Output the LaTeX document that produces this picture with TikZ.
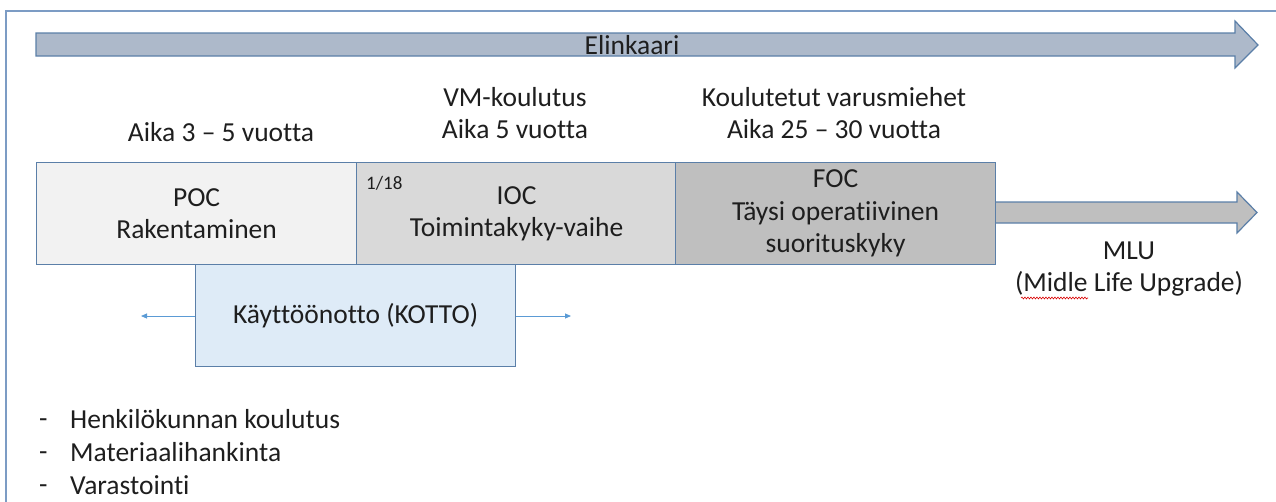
\documentclass[tikz,border=0pt]{standalone}
\usepackage{fontspec}
\setmainfont{Carlito}[Ligatures={NoCommon}]
\usetikzlibrary{arrows.meta,decorations.pathmorphing}
\definecolor{edgeblue}{HTML}{5B7FA8}
\definecolor{framecol}{HTML}{7C9CC4}
\definecolor{lifefill}{HTML}{ADB9CA}
\definecolor{pocfill}{HTML}{F2F2F2}
\definecolor{iocfill}{HTML}{D9D9D9}
\definecolor{focfill}{HTML}{BFBFBF}
\definecolor{kottofill}{HTML}{DEEBF7}
\definecolor{pointer}{HTML}{5B9BD5}
\definecolor{ink}{HTML}{1E1E1E}
\tikzset{
  phase/.style={draw=edgeblue, line width=1.2pt, minimum height=102pt,
    minimum width=320pt, anchor=north west, inner sep=0pt,
    align=center, text=ink, font=\fontsize{27.5}{32.5}\selectfont},
  label/.style={align=center, text=ink, font=\fontsize{27.5}{32.5}\selectfont, inner sep=0pt},
  bigarrow/.style={draw=edgeblue, line width=1.2pt, line join=miter},
  pointerline/.style={draw=pointer, line width=0.9pt, -{Triangle[length=6pt,width=5pt]}},
}
\begin{document}
\begin{tikzpicture}[x=1pt,y=-1pt]
\useasboundingbox (0,0) rectangle (1276,501);
\clip (0,0) rectangle (1276,501);
% outer frame
\draw[framecol, line width=1.5pt] (6,11) rectangle (1300,530);

% life-cycle arrow
\draw[bigarrow, fill=lifefill] (36,33) -- (1235,33) -- (1235,21) -- (1258,45)
  -- (1235,68) -- (1235,56) -- (36,56) -- cycle;
\node[label] (life) at (632,45) {Elinkaari};

% headings above the phases
\node[label] (t1) at (221,132) {Aika 3 – 5 vuotta};
\node[label] (t2) at (515,113) {VM-koulutus\\Aika 5 vuotta};
\node[label] (t3) at (834,113) {Koulutetut varusmiehet\\Aika 25 – 30 vuotta};

% MLU arrow behind the FOC box
\draw[bigarrow, fill=focfill] (990,202) -- (1237,202) -- (1237,192) -- (1257,212.5)
  -- (1237,233) -- (1237,223) -- (990,223) -- cycle;

% phases
\node[phase, fill=pocfill] (poc) at (36,162) {POC\\Rakentaminen};
\node[phase, fill=iocfill] (ioc) at (356,162) {IOC\\Toimintakyky-vaihe};
\node[phase, fill=focfill] (foc) at (675,162) {FOC\\Täysi operatiivinen\\suorituskyky};
\node[text=ink, font=\fontsize{19}{21}\selectfont, anchor=west, inner sep=0pt]
  (frac) at (366,183) {1/18};

% deployment box
\node[phase, fill=kottofill] (kotto) at (195,264) {Käyttöönotto (KOTTO)};
\coordinate (kl) at (141,316);
\coordinate (kr) at (571,316);
\draw[pointerline] (kotto.west |- kl) -- (kl);
\draw[pointerline] (kotto.east |- kr) -- (kr);

% MLU text
\node[label] (mlu) at (1129,269) {MLU\\(Midle Life Upgrade)};
\draw[red!85!black, line width=0.6pt, decorate,
  decoration={snake, amplitude=0.9pt, segment length=3pt}] (1021,298) -- (1088,298);

% task list
\foreach \y/\txt [count=\i] in {421/Henkilökunnan koulutus, 454/Materiaalihankinta, 487/Varastointi}{
  \node[label, anchor=west] (dash\i) at (39,\y) {\vphantom{Hg}-};
  \node[label, anchor=west] (item\i) at (70,\y) {\vphantom{Hg}\txt};
}
\end{tikzpicture}
\end{document}
